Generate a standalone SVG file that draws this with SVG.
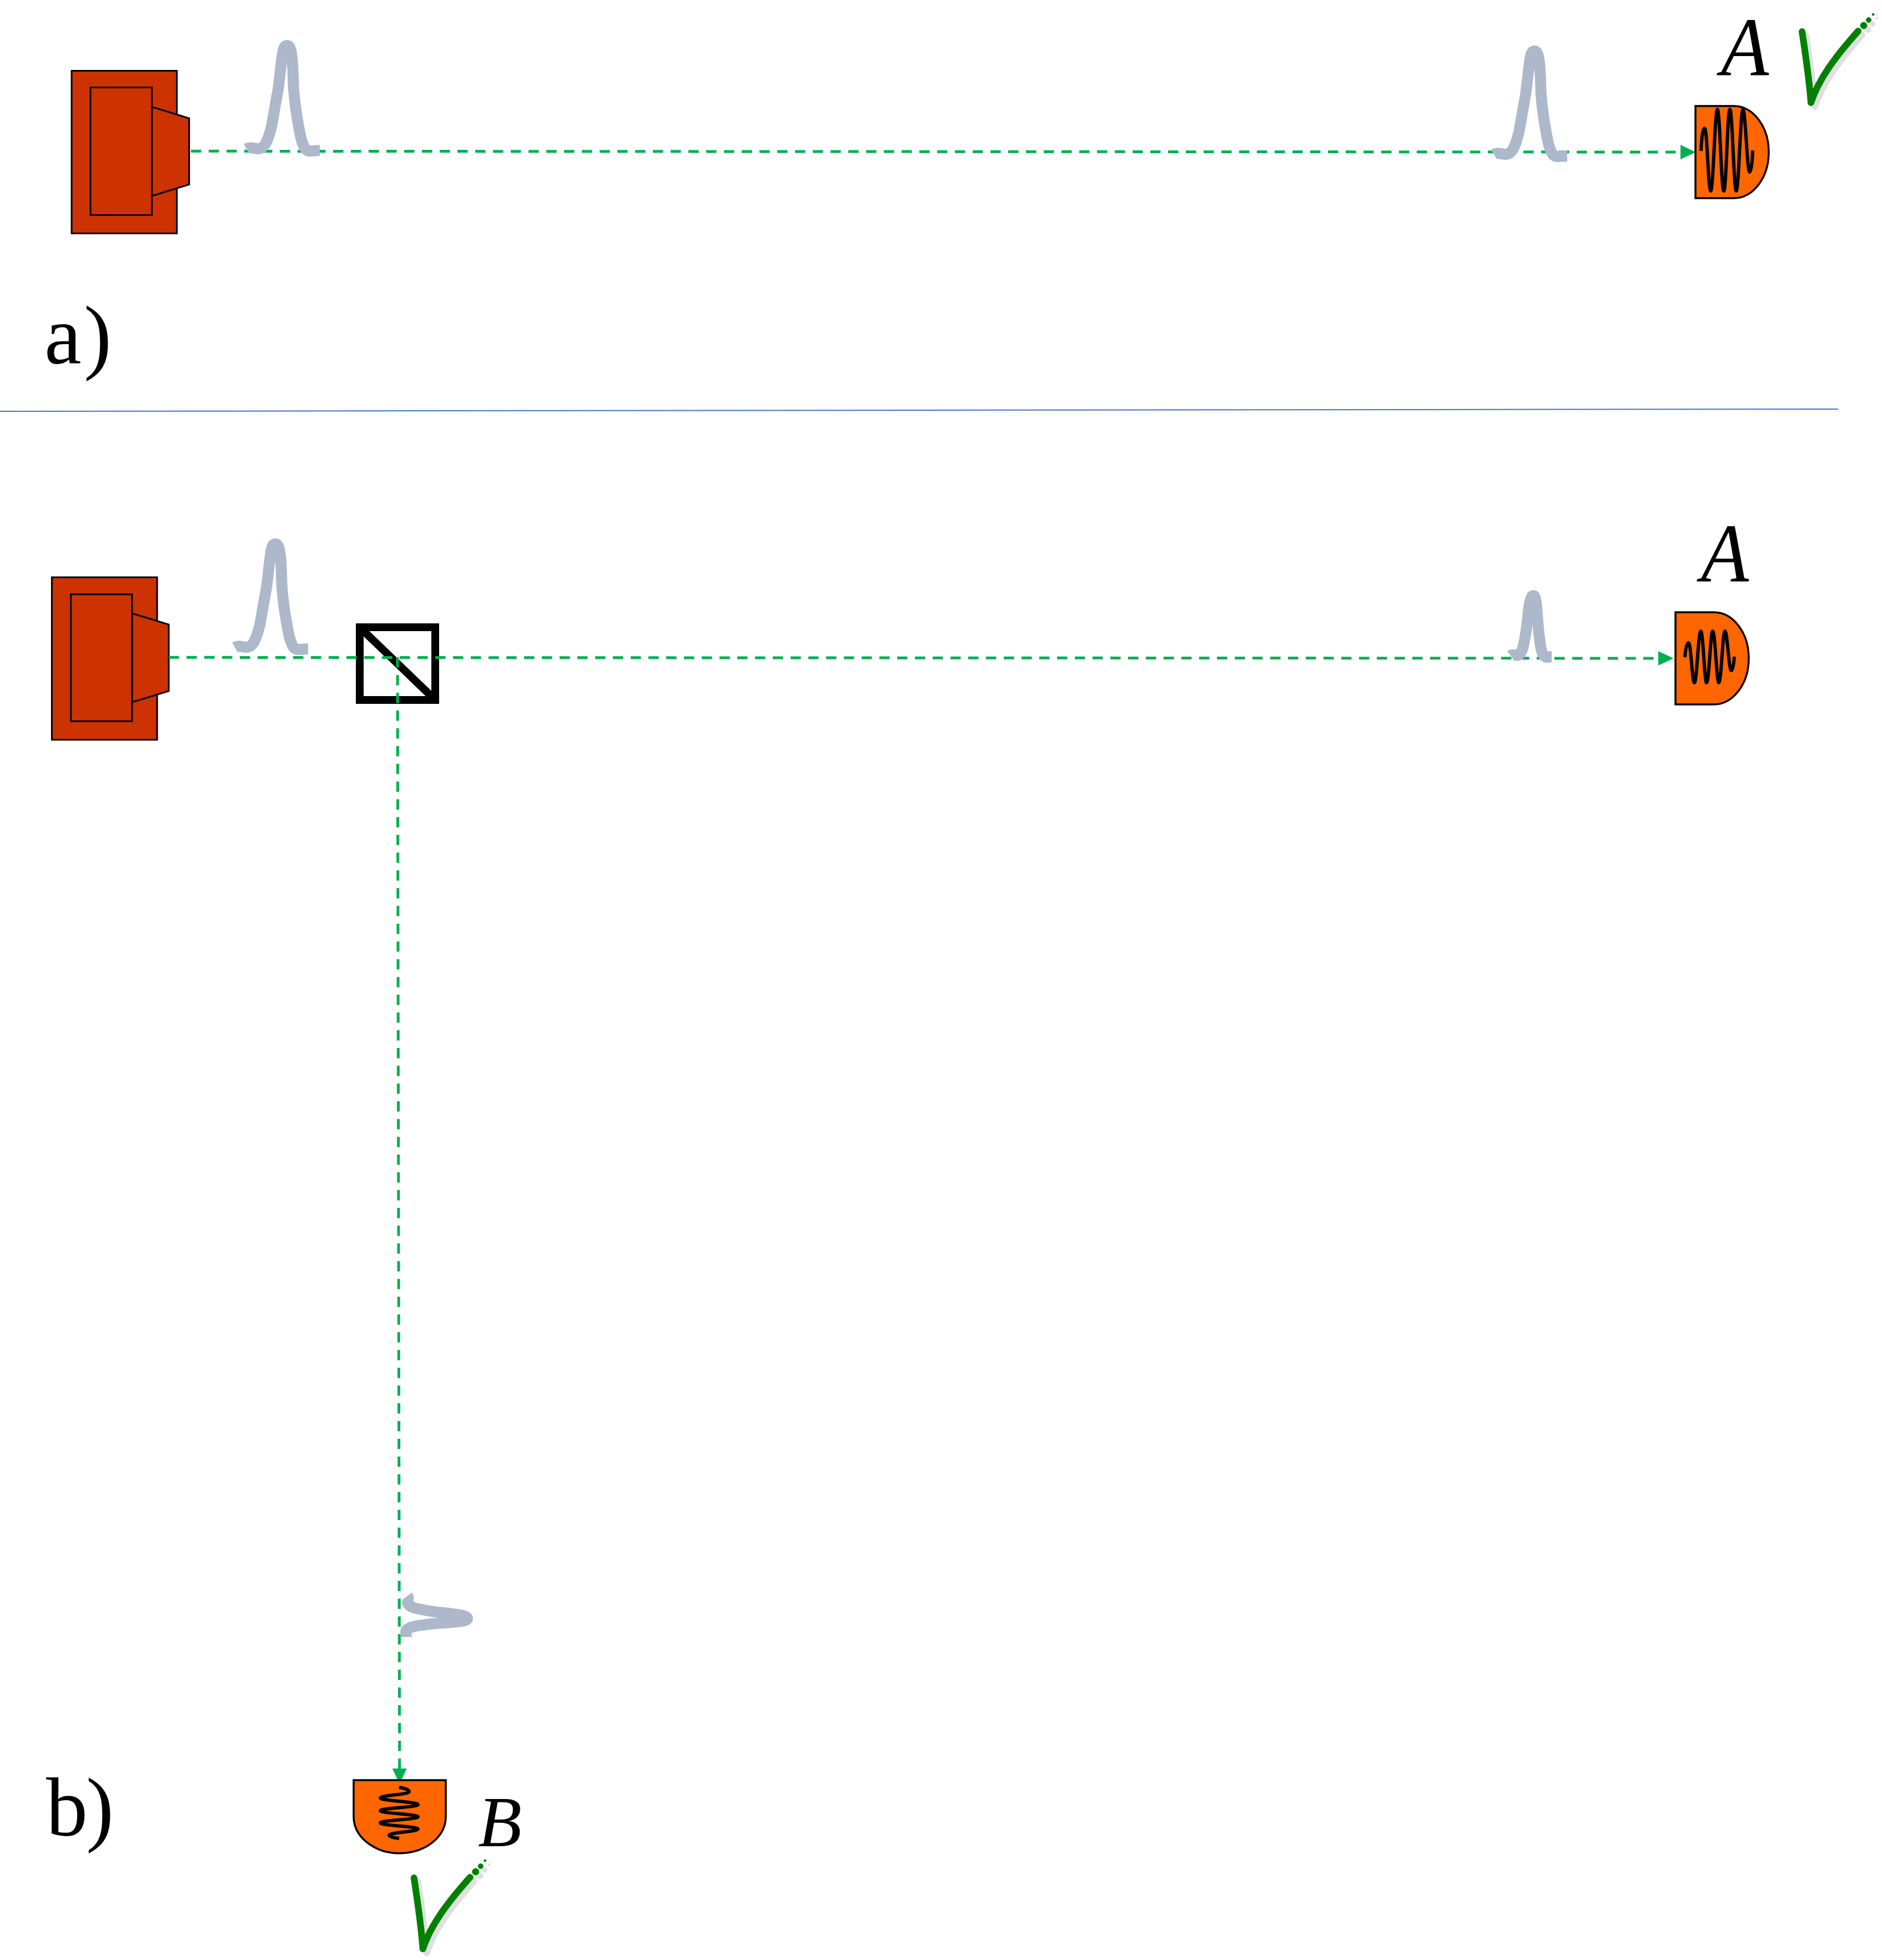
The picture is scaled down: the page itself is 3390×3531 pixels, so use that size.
<svg xmlns="http://www.w3.org/2000/svg" xmlns:xlink="http://www.w3.org/1999/xlink" width="3390" height="3531" viewBox="0 0 3390 3531">
<style>
.laser{fill:#CC3300;stroke:#000;stroke-width:3}
.det{fill:#FF6600;stroke:#000;stroke-width:3.5}
.wave{fill:none;stroke:#000;stroke-width:6}
.pulse{fill:none;stroke:#ADB9CA;stroke-width:20}
.beam{fill:none;stroke:#00B050;stroke-width:5;stroke-dasharray:18.5 13.5}
.t{font-family:"Liberation Serif","Times New Roman",serif;fill:#000}
.i{font-style:italic}
.ck{fill:none;stroke-width:12;stroke-linecap:round;stroke-linejoin:round}
</style>
<defs>
<marker id="arrow" markerUnits="userSpaceOnUse" markerWidth="28" markerHeight="28" refX="0" refY="14" orient="auto" viewBox="0 0 28 28"><path d="M0,1 L27.5,14 L0,27 Z" fill="#00B050"/></marker>
<path id="pulseL" class="pulse" d="M-73,186 C-66,182 -59,186 -52,186 C-38,186 -33,165 -28,146 C-24,125 -20,100 -16,79 C-14,62 -12,45 -10,29 C-8,10 -6,0 0,0 C6,0 8,10 9.7,29 C11,45 11,62 12,79 C14,105 17,125 21,146 C25,170 30,190 40,190 C47,190 53,189 59,189"/>
<path id="pulseS" class="pulse" d="M-41,108 C-37,105 -33,108 -29,107.5 C-21,107 -18,92 -16,80.5 C-14,70 -12,58 -11,47 C-9,30 -7,0 0,0 C5,0 6,20 8,47 C9,58 10,70 11.6,80.5 C13,95 16,111 25,111 C28,111 31,110 33,110"/>
<g id="checkShape">
<path class="ck" d="M0,0 C6,40 13,85 16,128 C30,85 60,45 101,-1"/>
<ellipse cx="111" cy="-11" rx="6" ry="6"/><circle cx="120" cy="-21" r="4.5"/><circle cx="128" cy="-31" r="2"/>
</g>
<path id="detShape" class="det" d="M3054,191 H3123 C3158,191 3186,228 3186,274 C3186,320 3158,357 3123,357 H3054 Z"/>
</defs>
<rect width="3390" height="3531" fill="#fff"/>

<g id="divider"><line x1="0" y1="741" x2="3311" y2="737" stroke="#4472C4" stroke-width="2"/></g>

<g id="laser-a">
<rect class="laser" x="129" y="127.5" width="189.5" height="293"/>
<path class="laser" d="M273.6,192.5 L340.7,213 V332.5 L273.6,353 Z"/>
<rect class="laser" x="163" y="157.5" width="110.6" height="230"/>
</g>
<g id="laser-b">
<rect class="laser" x="93.4" y="1040" width="189.6" height="292.7"/>
<path class="laser" d="M237.8,1105 L304,1125 V1245 L237.8,1265 Z"/>
<rect class="laser" x="127.5" y="1070.7" width="110.3" height="228.6"/>
</g>
<g id="beamsplitter">
<rect x="648" y="1130" width="136" height="131" fill="#fff" stroke="#000" stroke-width="14"/>
<line x1="650" y1="1132" x2="782" y2="1259" stroke="#000" stroke-width="14"/>
</g>

<g id="connectors">
<line class="beam" x1="344" y1="272.3" x2="3027" y2="274" marker-end="url(#arrow)"/>
<line class="beam" x1="304" y1="1184.3" x2="2987" y2="1186" marker-end="url(#arrow)"/>
<line class="beam" x1="716" y1="1184" x2="719.7" y2="3186" marker-end="url(#arrow)"/>
</g>

<g id="pulse-a1"><use xlink:href="#pulseL" href="#pulseL" transform="translate(517,82)"/></g>
<g id="pulse-a2"><use xlink:href="#pulseL" href="#pulseL" transform="translate(2764,92)"/></g>
<g id="pulse-b1"><use xlink:href="#pulseL" href="#pulseL" transform="translate(496,980)"/></g>
<g id="pulse-b2"><use xlink:href="#pulseS" href="#pulseS" transform="translate(2762,1073)"/></g>
<g id="pulse-b3"><use xlink:href="#pulseS" href="#pulseS" transform="translate(842,2916) rotate(90)"/></g>

<g id="detector-a">
<use xlink:href="#detShape" href="#detShape"/>
<path class="wave" d="M3064,272 C3065,250 3067,231 3070.6,231 C3075,231 3077,344 3081.5,344 C3086,344 3089,197 3093.5,197 C3098,197 3100.5,344 3105,344 C3109.5,344 3111.5,197 3116,197 C3120.5,197 3123,344 3127.5,344 C3132,344 3135,197 3139.5,197 C3144,197 3147,310 3151.5,310 C3154.5,310 3156.5,290 3157,271"/>
</g>
<g id="detector-b">
<use xlink:href="#detShape" href="#detShape" transform="translate(-36,912)"/>
<path class="wave" d="M3035,1184 C3036,1170 3038,1158 3041.4,1158 C3046,1158 3048,1230 3052,1230 C3056.5,1230 3059,1137 3063.6,1137 C3068,1137 3070,1230 3074,1230 C3078.5,1230 3081,1137 3085,1137 C3089.5,1137 3092,1230 3096,1230 C3100.5,1230 3103,1137 3107,1137 C3111.5,1137 3114,1208 3118.6,1208 C3121,1208 3123,1197 3124,1183"/>
</g>
<g id="detector-c">
<path class="det" d="M637,3207 H803 V3273 C803,3309 766,3338.7 720,3338.7 C674,3338.7 637,3309 637,3273 Z"/>
<path class="wave" d="M719,3220 C730,3222 737,3224 737,3228 C737,3233 685,3234 685,3239 C685,3244 753,3246 753,3251 C753,3256 685,3257 685,3262 C685,3267 753,3268 753,3273 C753,3278 685,3279 685,3284 C685,3289 753,3290 753,3295 C753,3300 701,3301 701,3306 C701,3309 710,3311 719,3312"/>
</g>

<g id="check-a">
<g transform="translate(3253,64)" stroke="#E0E0E0" fill="#E0E0E0"><use xlink:href="#checkShape" href="#checkShape"/></g>
<g transform="translate(3246,57)" stroke="#008000" fill="#008000"><use xlink:href="#checkShape" href="#checkShape"/></g>
</g>
<g id="check-b">
<g transform="translate(752.7,3390)" stroke="#E0E0E0" fill="#E0E0E0"><use xlink:href="#checkShape" href="#checkShape"/></g>
<g transform="translate(745.7,3383)" stroke="#008000" fill="#008000"><use xlink:href="#checkShape" href="#checkShape"/></g>
</g>

<g id="label-A1"><text class="t i" transform="translate(3100,135) scale(.94,1)" font-size="150">A</text></g>
<g id="label-A2"><text class="t i" transform="translate(3064,1047) scale(.94,1)" font-size="150">A</text></g>
<g id="label-B"><text class="t i" x="861" y="3326" font-size="129">B</text></g>
<g id="label-a"><text class="t" x="80 151" y="655" font-size="150">a)</text></g>
<g id="label-b"><text class="t" x="83 155" y="3307" font-size="150">b)</text></g>
</svg>
